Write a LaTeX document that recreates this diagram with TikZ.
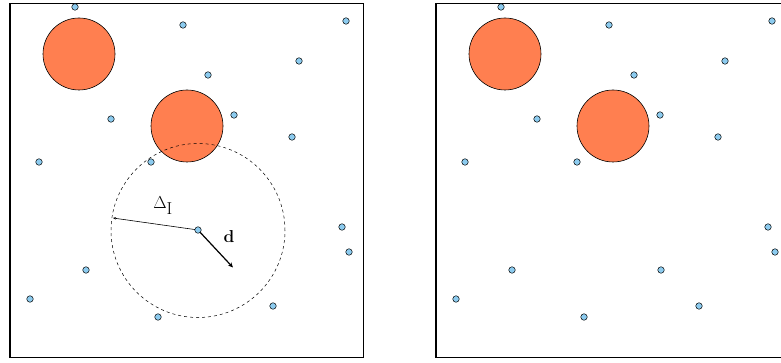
\documentclass[tikz,border=0pt]{standalone}
\usetikzlibrary{arrows.meta}
\definecolor{dotblue}{HTML}{8CCBEF}
\definecolor{blobor}{HTML}{FF7F50}
\begin{document}
\begin{tikzpicture}[x=1pt,y=-1pt,
  pt/.style={circle,draw=black,line width=0.5pt,fill=dotblue,inner sep=0pt,minimum size=6.5pt},
  blob/.style={circle,draw=black,line width=0.6pt,fill=blobor,inner sep=0pt,minimum size=72pt},
  frame/.style={draw=black,line width=1.6pt},
  lab/.style={font=\fontsize{16}{16}\selectfont,inner sep=0pt}]
\useasboundingbox (0,0) rectangle (781,363);
\clip (0,0) rectangle (781,363);
% left panel
\draw[frame] (10,3.5) rectangle (363.5,357.5);
\node[blob] (b1) at (79,54) {};
\node[blob] (b2) at (187,126) {};
\foreach \x/\y [count=\i] in {75/7,183/25,346/21,299/61,208/75,111/119,234/115,292/137,39/162,151/162,342/227,349/252,86/270,30/299,158/317,273/306}
  \node[pt] (l\i) at (\x,\y) {};
\node[circle,draw,dashed,line width=0.5pt,minimum size=174pt,inner sep=0pt] (dc) at (198,230.5) {};
\coordinate (dl) at (113,218);
\coordinate (dt) at (233,267.5);
\draw[line width=0.6pt,-{Stealth[length=3pt,width=2.5pt]}] (198,230) -- (dl);
\draw[line width=1.2pt,-{Stealth[length=5pt,width=4.5pt]}] (198,230) -- (dt);
\node[pt] (c) at (198,230) {};
\node[lab] (dlab) at (163,206) {$\Delta_{\textstyle\mathrm{I}}$};
\node[lab] (dd) at (229,237) {$\mathbf{d}$};
% right panel
\begin{scope}[xshift=426pt]
\draw[frame] (10,3.5) rectangle (363.5,357.5);
\node[blob] (rb1) at (79,54) {};
\node[blob] (rb2) at (187,126) {};
\foreach \x/\y [count=\i] in {75/7,183/25,346/21,299/61,208/75,111/119,234/115,292/137,39/162,151/162,342/227,349/252,86/270,30/299,158/317,273/306,235/270}
  \node[pt] (r\i) at (\x,\y) {};
\end{scope}
\end{tikzpicture}
\end{document}
